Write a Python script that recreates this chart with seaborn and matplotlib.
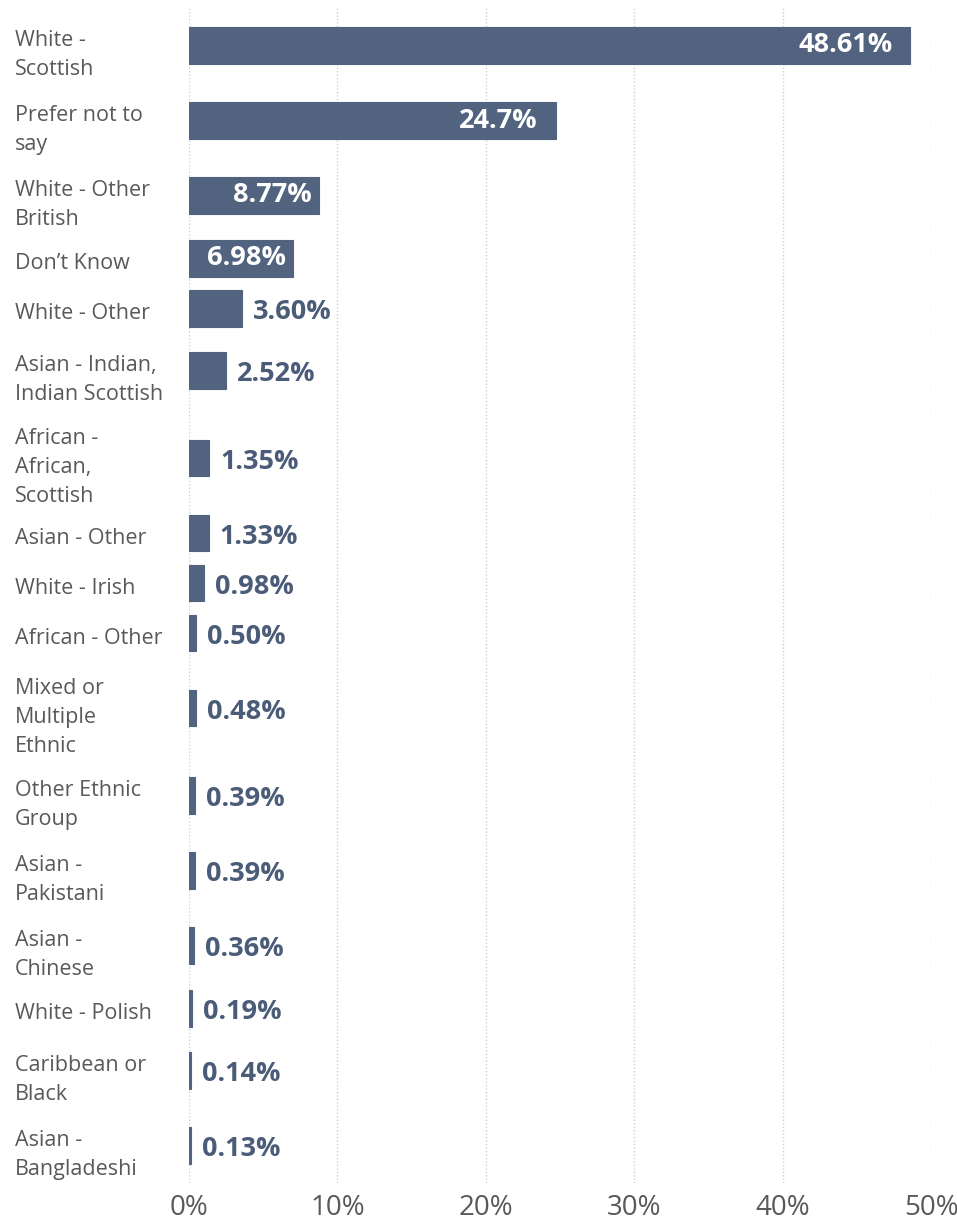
import matplotlib
matplotlib.use("Agg")
import matplotlib.pyplot as plt
import matplotlib.transforms as mtransforms
import seaborn as sns
import pandas as pd
import numpy as np

# ---- data ----
categories = [
    "White -\nScottish",
    "Prefer not to\nsay",
    "White - Other\nBritish",
    "Don\u2019t Know",
    "White - Other",
    "Asian - Indian,\nIndian Scottish",
    "African -\nAfrican,\nScottish",
    "Asian - Other",
    "White - Irish",
    "African - Other",
    "Mixed or\nMultiple\nEthnic",
    "Other Ethnic\nGroup",
    "Asian -\nPakistani",
    "Asian -\nChinese",
    "White - Polish",
    "Caribbean or\nBlack",
    "Asian -\nBangladeshi",
]
values = [48.61, 24.7, 8.77, 6.98, 3.60, 2.52, 1.35, 1.33, 0.98, 0.50,
          0.48, 0.39, 0.39, 0.36, 0.19, 0.14, 0.13]
value_labels = ["48.61%", "24.7%", "8.77%", "6.98%", "3.60%", "2.52%", "1.35%",
                "1.33%", "0.98%", "0.50%", "0.48%", "0.39%", "0.39%", "0.36%",
                "0.19%", "0.14%", "0.13%"]
x_ticks = [0, 10, 20, 30, 40, 50]

BAR = "#526380"
TXT = "#595959"
VAL = "#4b5c78"

# row height grows with the number of label lines
n_lines = np.array([c.count("\n") + 1 for c in categories])
row_h = 1 + n_lines
centers = np.cumsum(row_h) - row_h / 2
total = row_h.sum()

df = pd.DataFrame({"cat": categories, "value": values, "pos": centers})

sns.set_style("white")
plt.rcParams["font.family"] = ["Open Sans", "DejaVu Sans"]

fig = plt.figure(figsize=(9.57, 12.22), dpi=100)
ax = fig.add_axes([189 / 957, 1 - 1183 / 1222, (931 - 189) / 957, 1175 / 1222])

min_gap = np.min(np.diff(centers))
sns.barplot(data=df, x="value", y="pos", orient="y", native_scale=True,
            color=BAR, saturation=1, width=1.48 / min_gap, errorbar=None,
            edgecolor=BAR, linewidth=0.8, ax=ax)

ax.set_xlim(0, 50)
ax.set_ylim(total, 0)
ax.set_xticks(x_ticks)
ax.set_xticklabels([f"{t}%" for t in x_ticks], fontsize=20, color=TXT)
ax.tick_params(axis="x", length=0, pad=8)

ax.set_yticks(centers)
ax.set_yticklabels(categories, fontsize=15.5, color=TXT, ha="left",
                   multialignment="left", linespacing=1.5)
ax.tick_params(axis="y", length=0, pad=174 * 0.72)
shift = mtransforms.ScaledTranslation(0, -2 / 72, fig.dpi_scale_trans)
for lab in ax.get_yticklabels():
    lab.set_transform(lab.get_transform() + shift)

ax.grid(axis="x", color="#d0d0d0", linestyle=(0, (1, 1.5)), linewidth=1)
ax.grid(axis="y", visible=False)
ax.set_axisbelow(True)
for s in ax.spines.values():
    s.set_visible(False)
ax.set_xlabel("")
ax.set_ylabel("")

# value labels
px = 50 / (931 - 189)
for v, lbl, y in zip(values, value_labels, centers):
    if v >= 5:
        ax.text(v - 18 * px if v > 9 else v - 7 * px, y, lbl, ha="right", va="center",
                color="white", fontsize=19.5, fontweight="bold")
    else:
        ax.text(v + 11 * px, y + 0.15, lbl, ha="left", va="center",
                color=VAL, fontsize=19.5, fontweight="bold")

fig.savefig("out.png", dpi=100)
